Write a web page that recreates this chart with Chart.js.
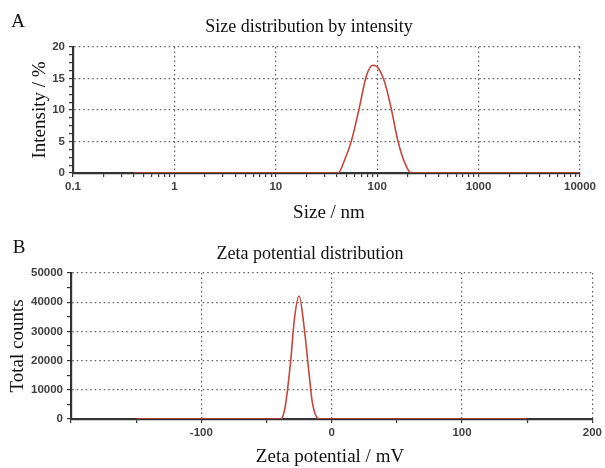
<!DOCTYPE html>
<html>
<head>
<meta charset="utf-8">
<script src="https://cdn.jsdelivr.net/npm/chart.js@4"></script>
<style>
  body { margin: 0; background: #fff; }
  .panel { position: absolute; left: 0; width: 605px; }
  #panelA { top: 0; height: 232px; }
  #panelB { top: 232px; height: 236px; }
</style>
</head>
<body>
<div class="panel" id="panelA"><canvas id="chartA"></canvas></div>
<div class="panel" id="panelB"><canvas id="chartB"></canvas></div>
<script>
// A: size distribution by intensity
const sizeNm = [0.4, 41, 47.8, 55.7, 66.1, 78.2, 90.4, 101, 118.5, 138, 160, 187, 217, 10000];
const intensityPct = [0, 0, 2.1, 5.1, 10.1, 15.4, 17.1, 16.8, 14.4, 10.1, 5.1, 1.6, 0, 0];
const sizeTicks = [0.1, 1, 10, 100, 1000, 10000];
const intensityTicks = [0, 5, 10, 15, 20];

// B: zeta potential distribution
const zetaMv = [-150, -39, -35.7, -31.4, -28.7, -25, -21.2, -17.4, -14.8, -9.7, 150];
const totalCounts = [0, 0, 4200, 20200, 33900, 42100, 31600, 15700, 5500, 0, 0];
const zetaTicks = [-100, 0, 100, 200];
const countTicks = [0, 10000, 20000, 30000, 40000, 50000];

const RED = '#c8443c';
const GRID = '#5e5e5e';
const AXIS = '#333';
const tickFont = { family: 'Liberation Sans', size: 11.5, weight: 'bold' };
const serif = 'Liberation Serif';

// draws panel letters, titles and axis titles at fixed spots
const textPlugin = {
  id: 'texts',
  afterDraw(chart, args, opts) {
    const ctx = chart.ctx;
    opts.items.forEach(t => {
      ctx.save();
      ctx.font = t.size + 'px "' + serif + '"';
      ctx.fillStyle = '#111';
      ctx.textAlign = 'center';
      ctx.textBaseline = 'middle';
      ctx.translate(t.x, t.y);
      if (t.rot) ctx.rotate(-Math.PI / 2);
      ctx.fillText(t.text, 0, 0);
      ctx.restore();
    });
  }
};

function gridColor(list) {
  return c => (c.tick && list.includes(c.tick.value)) ? GRID : 'rgba(0,0,0,0)';
}

function makeAxis(extra) {
  return Object.assign({
    border: { display: true, color: AXIS, width: 2.2, dash: [1.5, 3] },
    ticks: { color: '#404040', font: tickFont, autoSkip: false, maxRotation: 0, padding: 4 }
  }, extra);
}

function lineChart(id, xs, ys, xScale, yScale, texts, pad) {
  new Chart(document.getElementById(id), {
    type: 'scatter',
    data: {
      datasets: [{
        data: xs.map((x, i) => ({ x: x, y: ys[i] })),
        showLine: true,
        borderColor: RED,
        borderWidth: 1.6,
        pointRadius: 0,
        cubicInterpolationMode: 'monotone'
      }]
    },
    options: {
      responsive: true,
      maintainAspectRatio: false,
      animation: false,
      layout: { padding: pad },
      plugins: { legend: { display: false }, tooltip: { enabled: false }, texts: { items: texts } },
      scales: { x: xScale, y: yScale }
    },
    plugins: [textPlugin]
  });
}

// chart A
const sizeAll = [];
sizeTicks.forEach(d => {
  for (let m = 1; m <= 9; m++) if (d * m <= 10000) sizeAll.push(+(d * m).toPrecision(3));
});

lineChart('chartA', sizeNm, intensityPct,
  makeAxis({
    type: 'logarithmic', min: 0.1, max: 10000,
    afterBuildTicks: s => { s.ticks = sizeAll.map(v => ({ value: v })); },
    afterFit: s => { s.height = 59; },
    grid: { color: gridColor(sizeTicks.slice(1)), lineWidth: 1.2, tickLength: 4, tickColor: AXIS, tickWidth: 1.2 },
    ticks: Object.assign({}, makeAxis({}).ticks, {
      padding: 3,
      callback: v => sizeTicks.includes(v) ? String(v) : ''
    })
  }),
  makeAxis({
    min: 0, max: 20,
    afterBuildTicks: s => { const t = []; for (let v = 0; v <= 20; v += 1.25) t.push({ value: v }); s.ticks = t; },
    afterFit: s => { s.width = 73; },
    grid: { color: gridColor(intensityTicks.slice(1)), lineWidth: 1.2, tickLength: 4, tickColor: AXIS, tickWidth: 1.2 },
    ticks: Object.assign({}, makeAxis({}).ticks, {
      callback: v => intensityTicks.includes(v) ? String(v) : ''
    })
  }),
  [
    { text: 'A', x: 18, y: 22, size: 19 },
    { text: 'Size distribution by intensity', x: 309, y: 27, size: 18 },
    { text: 'Intensity / %', x: 40, y: 110, size: 19, rot: true },
    { text: 'Size / nm', x: 329, y: 213, size: 19 }
  ],
  { top: 47, right: 25, left: 0, bottom: 0 }
);

// chart B
lineChart('chartB', zetaMv, totalCounts,
  makeAxis({
    type: 'linear', min: -200, max: 200,
    afterBuildTicks: s => { const t = []; for (let v = -200; v <= 200; v += 50) t.push({ value: v }); s.ticks = t; },
    afterFit: s => { s.height = 49; },
    grid: { color: gridColor(zetaTicks), lineWidth: 1.2, tickLength: 4, tickColor: AXIS, tickWidth: 1.2 },
    ticks: Object.assign({}, makeAxis({}).ticks, {
      padding: 3,
      callback: v => zetaTicks.includes(v) ? String(v) : ''
    })
  }),
  makeAxis({
    min: 0, max: 50000,
    afterBuildTicks: s => { const t = []; for (let v = 0; v <= 50000; v += 5000) t.push({ value: v }); s.ticks = t; },
    afterFit: s => { s.width = 71; },
    grid: { color: gridColor(countTicks.slice(1)), lineWidth: 1.2, tickLength: 4, tickColor: AXIS, tickWidth: 1.2 },
    ticks: Object.assign({}, makeAxis({}).ticks, {
      callback: v => countTicks.includes(v) ? String(v) : ''
    })
  }),
  [
    { text: 'B', x: 19, y: 16, size: 19 },
    { text: 'Zeta potential distribution', x: 310, y: 22, size: 18 },
    { text: 'Total counts', x: 18, y: 114, size: 19, rot: true },
    { text: 'Zeta potential / mV', x: 330, y: 225, size: 19 }
  ],
  { top: 41, right: 10, left: 0, bottom: 0 }
);
</script>
</body>
</html>
